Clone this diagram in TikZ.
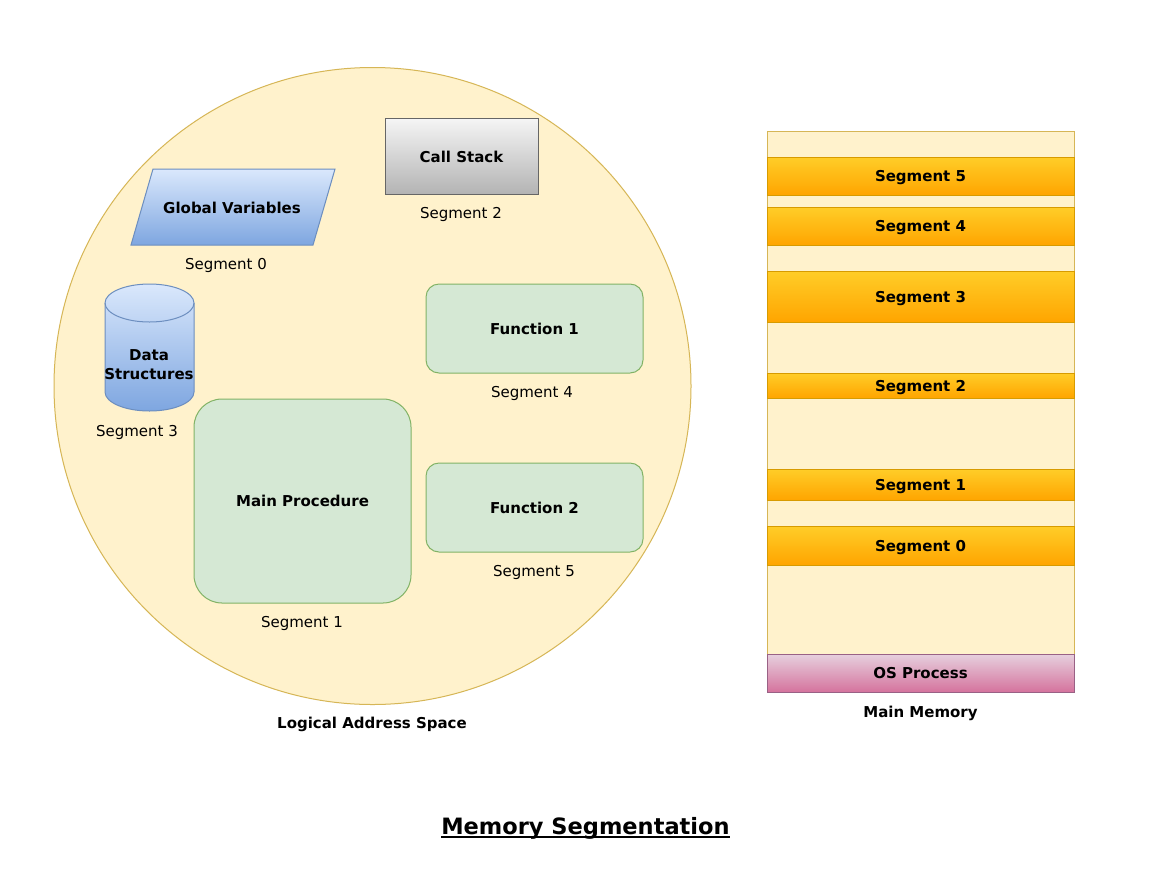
\documentclass[tikz,border=0pt]{standalone}
\usepackage{fontspec}
\setmainfont{DejaVu Sans}
\definecolor{yfill}{HTML}{FFF2CC}
\definecolor{ystroke}{HTML}{D6B656}
\definecolor{gfill}{HTML}{D5E8D4}
\definecolor{gstroke}{HTML}{82B366}
\definecolor{btop}{HTML}{DAE8FC}
\definecolor{bbot}{HTML}{7EA6E0}
\definecolor{bstroke}{HTML}{6C8EBF}
\definecolor{gtop}{HTML}{F5F5F5}
\definecolor{gbot}{HTML}{B3B3B3}
\definecolor{gstrokeb}{HTML}{666666}
\definecolor{otop}{HTML}{FFCD28}
\definecolor{obot}{HTML}{FFA500}
\definecolor{ostroke}{HTML}{D79B00}
\definecolor{ptop}{HTML}{E6D0DE}
\definecolor{pbot}{HTML}{D5739D}
\definecolor{pstroke}{HTML}{996185}
\begin{document}
\begin{tikzpicture}[x=1pt,y=-1pt,
  lbl/.style={font=\fontsize{15}{18}\selectfont, inner sep=0pt},
  blbl/.style={font=\fontsize{15}{19}\selectfont\bfseries, inner sep=0pt, align=center},
  segbox/.style={draw=ostroke, top color=otop, bottom color=obot, minimum width=307pt, inner sep=0pt, line width=1pt, text height=11pt, text depth=0pt, font=\fontsize{15}{18}\selectfont\bfseries},
  funcbox/.style={draw=gstroke, fill=gfill, line width=1pt, inner sep=0pt, text height=11pt, text depth=0pt, font=\fontsize{15}{18}\selectfont\bfseries}
]
\useasboundingbox (0,0) rectangle (1150,868);
\fill[white] (0,0) rectangle (1150,868);

% logical address space
\node[circle, draw=ystroke, fill=yfill, minimum size=637pt, inner sep=0pt, line width=1pt] (las) at (372.5,386) {};

% call stack
\node[draw=gstrokeb, top color=gtop, bottom color=gbot, line width=1pt, minimum width=153pt, minimum height=76pt, inner sep=0pt, text height=11pt, text depth=0pt, font=\fontsize{15}{18}\selectfont\bfseries] (cs) at (461.5,156.5) {Call Stack};
\node[lbl] (l2) at (461,214) {Segment 2};

% global variables
\shade[top color=btop, bottom color=bbot, draw=bstroke, line width=1pt]
  (153,169) -- (335,169) -- (313,245) -- (131,245) -- cycle;
\node[blbl] (gv) at (232,208) {Global Variables};
\node[lbl] (l0) at (226,265) {Segment 0};

% data structures cylinder
\shade[top color=btop, bottom color=bbot, draw=bstroke, line width=1pt]
  (105,303) -- (105,392) arc[start angle=180, end angle=360, x radius=44.5pt, y radius=19pt]
  -- (194,303) arc[start angle=0, end angle=180, x radius=44.5pt, y radius=19pt] -- cycle;
\draw[bstroke, line width=1pt] (105,303) arc[start angle=180, end angle=360, x radius=44.5pt, y radius=19pt];
\node[blbl] (ds) at (149,365) {Data\\Structures};
\node[lbl] (l3) at (137,432) {Segment 3};

% functions
\node[funcbox, rounded corners=13pt, minimum width=217pt, minimum height=89pt] (f1) at (534.5,328.5) {Function 1};
\node[lbl] (l4) at (532,393) {Segment 4};
\node[funcbox, rounded corners=13pt, minimum width=217pt, minimum height=89pt] (f2) at (534.5,507.5) {Function 2};
\node[lbl] (l5) at (534,572) {Segment 5};
\node[funcbox, rounded corners=28pt, minimum width=217pt, minimum height=204pt] (mp) at (302.5,501) {Main Procedure};
\node[lbl] (l1) at (302,623) {Segment 1};

\node[blbl] (lastitle) at (372,724) {Logical Address Space};

% main memory
\node[draw=ystroke, fill=yfill, line width=1pt, minimum width=307pt, minimum height=561pt, inner sep=0pt] (mem) at (920.5,411.5) {};
\node[segbox, minimum height=38pt] (m5) at (920.5,176) {Segment 5};
\node[segbox, minimum height=38pt] (m4) at (920.5,226) {Segment 4};
\node[segbox, minimum height=51pt] (m3) at (920.5,296.5) {Segment 3};
\node[segbox, minimum height=25pt] (m2) at (920.5,385.5) {Segment 2};
\node[segbox, minimum height=31pt] (m1) at (920.5,484.5) {Segment 1};
\node[segbox, minimum height=39pt] (m0) at (920.5,545.5) {Segment 0};
\node[segbox, draw=pstroke, top color=ptop, bottom color=pbot, minimum height=38pt] (os) at (920.5,673) {OS Process};
\node[blbl] (memtitle) at (920.5,713) {Main Memory};

% title
\node[inner sep=0pt, anchor=base, font=\fontsize{22.5}{27}\selectfont\bfseries] (title) at (585.5,834) {Memory Segmentation};
\draw[line width=2pt] ([yshift=-3pt]title.base west) -- ([yshift=-3pt]title.base east);
\end{tikzpicture}
\end{document}
